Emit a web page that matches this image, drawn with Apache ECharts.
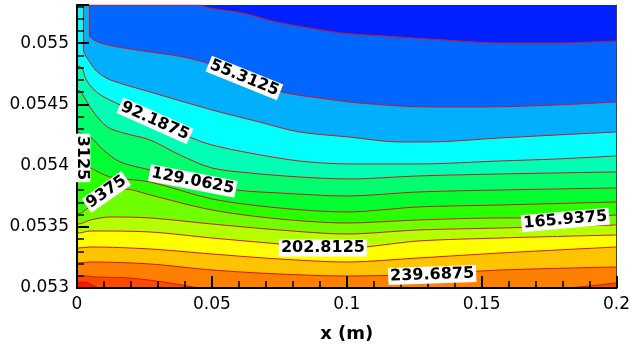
<!DOCTYPE html>
<html><head><meta charset="utf-8">
<script src="https://cdn.jsdelivr.net/npm/echarts/dist/echarts.min.js"></script>
<style>html,body{margin:0;padding:0;background:#fff}#c{width:633px;height:349px}</style>
</head><body><div id="c"></div>
<script>
// ---- data (x in m, y in m) ----
const xTicks = [0, 0.05, 0.1, 0.15, 0.2];
const yTicks = [0.053, 0.0535, 0.054, 0.0545, 0.055];
const yTop = 0.0553125;
const levels = [36.875, 55.3125, 73.75, 92.1875, 110.625, 129.0625, 147.5, 165.9375, 184.375, 202.8125, 221.25, 239.6875, 258.125, 276.5625];

const line_36_875 = [[0,0.0553125],[0.04549,0.0553125],[0.04917,0.0552887],[0.06132,0.0552479],[0.07385,0.0551743],[0.086,0.0551252],[0.09816,0.0550844],[0.11915,0.0550517],[0.1302,0.0550353],[0.1571,0.0550026],[0.17808,0.0550026],[0.2,0.055019]];
const line_55_3125 = [[0,0.0553125],[0.0046,0.0553125],[0.0046,0.055068],[0.00571,0.0550353],[0.00866,0.0550026],[0.01492,0.0549699],[0.02707,0.0549291],[0.03923,0.0548882],[0.04917,0.054831],[0.06206,0.0547165],[0.07606,0.0546021],[0.08968,0.0545531],[0.10442,0.0545122],[0.1302,0.0544795],[0.1512,0.0544795],[0.17808,0.0544959],[0.2,0.0545204]];
const line_73_75 = [[0,0.0553125],[0.00239,0.0553125],[0.00239,0.0549454],[0.00497,0.0548392],[0.00755,0.0547656],[0.01234,0.0547002],[0.02707,0.0546021],[0.05,0.054455],[0.06758,0.0543569],[0.08232,0.0542751],[0.10074,0.0542343],[0.11915,0.0541934],[0.1302,0.0541934],[0.1571,0.0542261],[0.17808,0.0542506],[0.2,0.0542751]];
const line_92_1875 = [[0,0.0548146],[0.00184,0.0547983],[0.00313,0.0547165],[0.00497,0.0546512],[0.00866,0.0545776],[0.01602,0.0544959],[0.02891,0.0543651],[0.04254,0.0542261],[0.05,0.0541689],[0.0639,0.0541035],[0.08232,0.0540381],[0.10074,0.0540136],[0.12652,0.0540136],[0.1571,0.0540381],[0.17808,0.0540544],[0.2,0.054079]];
const line_110_625 = [[0,0.0546185],[0.00147,0.0546021],[0.00239,0.0545694],[0.00608,0.0544386],[0.01123,0.054316],[0.01713,0.054267],[0.02707,0.0542097],[0.03812,0.0540871],[0.05,0.0539809],[0.0639,0.05394],[0.08232,0.0539073],[0.10074,0.053891],[0.12652,0.0539155],[0.1571,0.0539318],[0.2,0.0539482]];
const line_129_0625 = [[0,0.0542833],[0.00122,0.054267],[0.00313,0.0542424],[0.00497,0.0542343],[0.00976,0.054128],[0.01602,0.0540299],[0.02707,0.0539645],[0.04291,0.0538746],[0.05912,0.0538011],[0.07495,0.0537765],[0.1,0.053752],[0.12652,0.0537847],[0.1571,0.0538011],[0.2,0.0538174]];
const line_147_5 = [[0,0.0540381],[0.00099,0.0540299],[0.00276,0.0540054],[0.00424,0.0539891],[0.01234,0.0539073],[0.02707,0.0538664],[0.05,0.0537275],[0.07495,0.0536539],[0.1,0.0536212],[0.12652,0.0536621],[0.1571,0.0536784],[0.2,0.053703]];
const line_165_9375 = [[0,0.0536049],[0.00055,0.0536049],[0.00313,0.0536376],[0.00681,0.0536948],[0.01234,0.0537684],[0.01786,0.0538092],[0.02707,0.0537602],[0.05,0.0536376],[0.07495,0.053564],[0.1,0.0535313],[0.12652,0.0535558],[0.1571,0.0535722],[0.18103,0.0535722],[0.2,0.0535967]];
const line_184_375 = [[0,0.0535231],[0.00055,0.0535231],[0.00497,0.0535558],[0.01234,0.0535804],[0.02707,0.0535722],[0.05,0.0535231],[0.07495,0.0534741],[0.1,0.0534414],[0.12652,0.0534741],[0.1571,0.0534904],[0.2,0.053515]];
const line_202_8125 = [[0,0.0534496],[0.00055,0.0534496],[0.00497,0.0534659],[0.02707,0.0534577],[0.05,0.0534087],[0.07495,0.0533597],[0.09079,0.053327],[0.1,0.053327],[0.12652,0.0533842],[0.1571,0.0534087],[0.2,0.0534332]];
const line_221_25 = [[0,0.053327],[0.00055,0.053327],[0.00497,0.0533351],[0.02707,0.0533188],[0.05,0.0532779],[0.07495,0.053237],[0.1,0.0532125],[0.12652,0.0532452],[0.1571,0.0532861],[0.2,0.0533351]];
const line_239_6875 = [[0,0.0532044],[0.00055,0.0532044],[0.00497,0.0532125],[0.02707,0.0531962],[0.05,0.0531471],[0.07495,0.0531144],[0.1,0.0530981],[0.13168,0.0531144],[0.1571,0.0531471],[0.2,0.0531717]];
const line_258_125 = [[0,0.0530899],[0.00313,0.0530981],[0.00681,0.0530899],[0.01971,0.0530817],[0.03444,0.0530409],[0.04549,0.053],[0.06022,0.0529673],[0.1,0.0529428],[0.12652,0.052951],[0.1571,0.0529673],[0.17808,0.0529918],[0.2,0.0530409]];
const line_276_5625 = [[0,0.053049],[0.00313,0.053049],[0.00571,0.0530245],[0.00866,0.0529918],[0.01234,0.0529673]];

const labelTexts = ['55.3125','92.1875','129.0625','165.9375','202.8125','239.6875','9375','3125'];
const labelX = [0.06206, 0.02891, 0.04291, 0.18103, 0.09116, 0.13168, 0.0109, 0.0018];
const labelY = [0.0547165, 0.0543651, 0.0538746, 0.0535558, 0.053327, 0.0531063, 0.0537847, 0.0540626];
const labelAngle = [-22, -24, -11, 5, 0, 2, 35, -90];

// ---- styles ----
const bandColors = ['#0020ff','#0066ff','#00b0ff','#00ffff','#00ffb4','#00ff6e','#00ff30','#28ff00','#70ff00','#b4ff00','#ffff00','#ffc400','#ff8000','#ff4800','#ff1400'];
const contourColor = '#d01818';
const FONT = 'DejaVu Sans';

const lines = [line_36_875, line_55_3125, line_73_75, line_92_1875, line_110_625, line_129_0625, line_147_5, line_165_9375, line_184_375, line_202_8125, line_221_25, line_239_6875, line_258_125, line_276_5625];

const chart = echarts.init(document.getElementById('c'), null, {renderer: 'canvas'});
const fmt = v => String(parseFloat(Number(v).toFixed(6)));

const series = lines.map((d, i) => ({
  type: 'line', name: String(levels[i]), data: d,
  showSymbol: false, symbol: 'none', silent: true, clip: true, smooth: 0.3,
  lineStyle: {color: contourColor, width: 1},
  areaStyle: {color: bandColors[i + 1], opacity: 1, origin: 'start'},
  z: 2
}));

chart.setOption({
  animation: false,
  grid: {left: 77, right: 13, top: 5, bottom: 61, show: true, backgroundColor: bandColors[0], borderWidth: 0},
  xAxis: {
    type: 'value', min: xTicks[0], max: xTicks[xTicks.length - 1], interval: 0.05,
    axisLine: {show: true, onZero: false, lineStyle: {color: '#000', width: 2}},
    axisTick: {show: true, inside: true, length: 12, lineStyle: {color: '#000', width: 2}},
    minorTick: {show: true, splitNumber: 5, length: 7, lineStyle: {color: '#000', width: 1.5}},
    splitLine: {show: false},
    axisLabel: {formatter: fmt, margin: 8, color: '#000', fontFamily: FONT, fontSize: 17},
    name: 'x (m)', nameLocation: 'middle', nameGap: 37,
    nameTextStyle: {fontFamily: FONT, fontSize: 18, fontWeight: 'bold', color: '#000'},
    z: 5
  },
  yAxis: [{
    type: 'value', min: yTicks[0], max: yTop, interval: 0.0005,
    axisLine: {show: true, onZero: false, lineStyle: {color: '#000', width: 2}},
    axisTick: {show: true, inside: true, length: 12, lineStyle: {color: '#000', width: 2}},
    minorTick: {show: true, splitNumber: 5, length: 7, lineStyle: {color: '#000', width: 1.5}},
    splitLine: {show: false},
    axisLabel: {formatter: v => yTicks.some(t => Math.abs(t - v) < 1e-9) ? fmt(v) : '', showMaxLabel: false, margin: 8, color: '#000', fontFamily: FONT, fontSize: 17},
    z: 5
  }, {
    type: 'value', min: yTicks[0], max: yTop, position: 'right',
    axisLine: {show: true, onZero: false, lineStyle: {color: '#444', width: 1}},
    axisTick: {show: false}, axisLabel: {show: false}, splitLine: {show: false}, z: 5
  }],
  series: series
});

// contour labels placed via the grid's coordinate system
const graphics = labelTexts.map((t, i) => {
  const p = chart.convertToPixel({gridIndex: 0}, [labelX[i], labelY[i]]);
  return {
    type: 'text', x: p[0], y: p[1], rotation: labelAngle[i] * Math.PI / 180, z: 100,
    style: {text: t, fontFamily: FONT, fontSize: 16, fontWeight: 'bold', fill: '#000',
      align: 'center', verticalAlign: 'middle', backgroundColor: '#fff', padding: [1, 2, 0, 2]}
  };
});
chart.setOption({graphic: graphics});
</script></body></html>
